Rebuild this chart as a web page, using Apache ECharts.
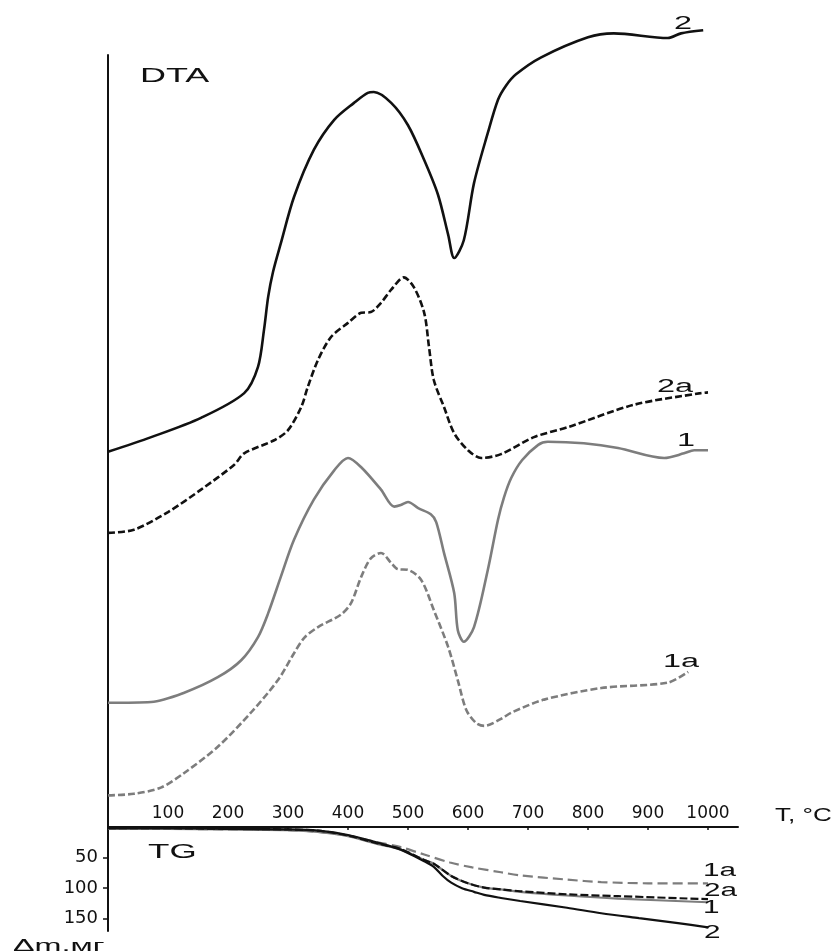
<!DOCTYPE html>
<html>
<head>
<meta charset="utf-8">
<script src="https://cdn.jsdelivr.net/npm/echarts@6/dist/echarts.min.js"></script>
<style>
  html, body { margin: 0; padding: 0; background: #fff; }
  #chart { width: 837px; height: 951px; }
</style>
</head>
<body>
<div id="chart"></div>
<script>
// Temperature ticks (°C) and mass-loss ticks (mg)
const tempTicks = [100, 200, 300, 400, 500, 600, 700, 800, 900, 1000];
const massTicks = [50, 100, 150];

// DTA curves: temperature (°C) and signal (arbitrary units, offset per curve)
const dta2T = [0, 72, 155, 227, 250, 260, 267, 275, 288, 310, 343, 377, 410, 433, 443, 472, 500, 527, 550, 567, 577, 593, 610, 633, 650, 663, 680, 722, 800, 843, 933, 955, 992];
const dta2 = [48.6, 50.5, 53.0, 56.2, 59.6, 64.4, 68.7, 71.9, 75.6, 81.6, 87.7, 91.6, 93.8, 95.1, 95.2, 93.8, 90.9, 86.4, 81.9, 76.7, 73.7, 76.0, 83.4, 89.9, 94.2, 96.0, 97.5, 99.7, 102.3, 102.8, 102.2, 102.8, 103.2];

const dta2aT = [0, 43, 100, 155, 210, 227, 277, 300, 322, 333, 350, 372, 400, 422, 438, 455, 472, 493, 510, 527, 535, 543, 560, 577, 600, 622, 655, 710, 767, 877, 988, 1000];
const dta2a = [38.1, 38.5, 40.8, 43.7, 46.9, 48.4, 50.1, 51.4, 54.4, 57.0, 60.5, 63.5, 65.3, 66.6, 66.7, 67.9, 69.6, 71.2, 69.9, 66.6, 62.2, 57.9, 54.4, 51.0, 48.8, 47.8, 48.3, 50.5, 51.8, 54.7, 56.2, 56.3];

const dta1T = [0, 72, 127, 183, 222, 250, 267, 288, 310, 343, 377, 400, 422, 455, 477, 488, 500, 517, 538, 547, 560, 577, 583, 593, 610, 633, 650, 660, 672, 690, 717, 733, 793, 850, 927, 960, 977, 1000];
const dta1 = [16.1, 16.2, 17.4, 19.4, 21.6, 24.6, 27.7, 32.4, 37.2, 42.4, 46.2, 47.8, 46.6, 43.7, 41.5, 41.7, 42.1, 41.3, 40.5, 39.5, 35.5, 30.3, 25.5, 24.0, 25.9, 33.3, 39.8, 42.7, 45.2, 47.5, 49.5, 49.9, 49.7, 49.1, 47.8, 48.4, 48.8, 48.8];

const dta1aT = [0, 43, 88, 127, 183, 238, 283, 310, 327, 350, 388, 405, 422, 438, 455, 472, 483, 500, 522, 543, 567, 583, 597, 613, 627, 655, 672, 727, 822, 933, 967];
const dta1a = [4.1, 4.3, 5.1, 7.0, 10.4, 14.8, 19.0, 22.5, 24.5, 25.9, 27.5, 29.0, 32.4, 34.8, 35.5, 34.2, 33.4, 33.3, 32.0, 28.1, 23.3, 19.0, 15.2, 13.5, 13.1, 14.0, 14.8, 16.5, 18.0, 18.7, 20.1];

// TG curves: temperature (°C) and mass loss (mg)
const tg2T = [0, 100, 200, 300, 350, 400, 450, 488, 527, 543, 558, 572, 590, 610, 627, 655, 687, 765, 822, 885, 950, 1000];
const tg2 = [2, 2, 3, 4, 6, 13, 26, 37, 56, 65, 80, 91, 100, 106, 111, 116, 121, 132, 141, 149, 157, 164];

const tg1T = [0, 100, 200, 300, 350, 400, 450, 488, 527, 543, 572, 600, 627, 655, 687, 765, 850, 1000];
const tg1 = [3, 3, 4, 5, 8, 15, 28, 37, 54, 60, 80, 92, 99, 102, 106, 112, 117, 123];

const tg2aT = [0, 100, 200, 300, 350, 400, 450, 488, 527, 543, 572, 600, 627, 655, 687, 765, 850, 1000];
const tg2a = [2, 2, 3, 4, 6, 14, 27, 36, 54, 60, 80, 92, 99, 102, 105, 110, 113, 118];

const tg1aT = [0, 100, 200, 300, 350, 400, 450, 488, 527, 570, 607, 655, 687, 765, 822, 900, 1000];
const tg1a = [3, 3, 4, 5, 8, 14, 25, 33, 45, 58, 66, 74, 79, 86, 90, 92, 92];

const zip = (xs, ys) => xs.map((x, i) => [x, ys[i]]);

const BLACK = '#111111';
const GREY = '#7d7d7d';
const TICK_FONT = '"DejaVu Sans", sans-serif';
const TEXT_FONT = '"Liberation Sans", Arial, sans-serif';

function dtaLine(name, data, color, dashed) {
  return {
    name, type: 'line', xAxisIndex: 0, yAxisIndex: 0,
    data, showSymbol: false, symbol: 'none', smooth: 0.3, clip: false,
    lineStyle: { color, width: 2.6, type: dashed ? [7, 3] : 'solid' }
  };
}
function tgLine(name, data, color, dash) {
  return {
    name, type: 'line', xAxisIndex: 1, yAxisIndex: 1,
    data, showSymbol: false, symbol: 'none', smooth: 0.3, clip: false,
    lineStyle: { color, width: 2.2, type: dash || 'solid' }
  };
}
function label(text, x, y, size, sx) {
  return {
    type: 'text', x, y, scaleX: sx, z: 10,
    style: { text, font: size + 'px ' + TEXT_FONT, fill: BLACK, align: 'left', verticalAlign: 'middle' }
  };
}

const chart = echarts.init(document.getElementById('chart'), null, { renderer: 'canvas' });
chart.setOption({
  backgroundColor: '#ffffff',
  animation: false,
  grid: [
    { left: 108, right: 99, top: 55, bottom: 124, outerBoundsMode: 'none' },
    { left: 108, right: 99, top: 827, bottom: 20, outerBoundsMode: 'none' }
  ],
  xAxis: [
    { gridIndex: 0, type: 'value', min: 0, max: 1050, show: false },
    {
      gridIndex: 1, type: 'value', position: 'top', min: 0, max: 1050, interval: 100,
      axisLine: { show: true, onZero: false, lineStyle: { color: BLACK, width: 2 } },
      axisTick: { show: true, inside: true, length: 3, customValues: tempTicks, lineStyle: { color: BLACK, width: 1.5 } },
      axisLabel: {
        show: true, margin: 5, customValues: tempTicks, color: BLACK,
        fontFamily: TICK_FONT, fontSize: 17, formatter: (v) => String(v)
      },
      splitLine: { show: false }
    }
  ],
  yAxis: [
    {
      gridIndex: 0, type: 'value', min: 0, max: 100,
      axisLine: { show: true, onZero: false, lineStyle: { color: BLACK, width: 2 } },
      axisTick: { show: false }, axisLabel: { show: false }, splitLine: { show: false }
    },
    {
      gridIndex: 1, type: 'value', inverse: true, min: 0, max: 170, interval: 50,
      axisLine: { show: true, onZero: false, lineStyle: { color: BLACK, width: 2 } },
      axisTick: { show: true, length: 5, customValues: massTicks, lineStyle: { color: BLACK, width: 1.5 } },
      axisLabel: {
        show: true, margin: 10, customValues: massTicks, color: BLACK,
        fontFamily: TICK_FONT, fontSize: 18, formatter: (v) => String(v)
      },
      splitLine: { show: false }
    }
  ],
  series: [
    dtaLine('DTA 2', zip(dta2T, dta2), BLACK, false),
    dtaLine('DTA 2a', zip(dta2aT, dta2a), BLACK, true),
    dtaLine('DTA 1', zip(dta1T, dta1), GREY, false),
    dtaLine('DTA 1a', zip(dta1aT, dta1a), GREY, true),
    tgLine('TG 1a', zip(tg1aT, tg1a), GREY, [10, 5]),
    tgLine('TG 1', zip(tg1T, tg1), GREY),
    tgLine('TG 2a', zip(tg2aT, tg2a), BLACK, [8, 3]),
    tgLine('TG 2', zip(tg2T, tg2), BLACK)
  ],
  graphic: [
    label('DTA', 140, 76, 20, 1.8),
    label('TG', 148, 852, 20, 1.75),
    label('T, °C', 775, 816, 18, 1.45),
    label('Δm,мг', 13, 946, 17, 1.9),
    label('2', 674, 24, 18, 1.8),
    label('2a', 657, 387, 18, 1.8),
    label('1', 677, 441, 18, 1.8),
    label('1a', 663, 662, 18, 1.8),
    label('1a', 703, 871, 18, 1.65),
    label('2a', 704, 891, 18, 1.65),
    label('1', 703, 908, 18, 1.65),
    label('2', 704, 933, 18, 1.65)
  ]
});
</script>
</body>
</html>
